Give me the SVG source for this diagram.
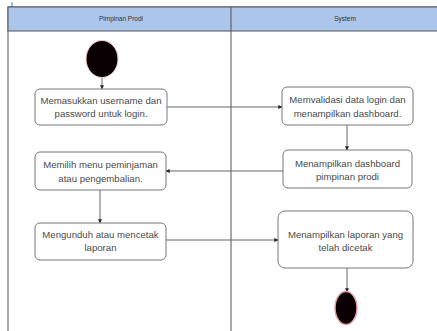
<svg xmlns="http://www.w3.org/2000/svg" width="437" height="331" viewBox="0 0 437 331">
<defs>
<style>
.lane{fill:#ffffff;stroke:#555;stroke-width:1}
.hdr{fill:#abc5eb;stroke:#555;stroke-width:1}
.hdrt{font-family:"Liberation Sans",Arial,sans-serif;font-size:6.5px;fill:#333;text-anchor:middle}
.box{fill:#ffffff;stroke:#777;stroke-width:1}
.t{font-family:"Liberation Sans",Arial,sans-serif;font-size:9.6px;fill:#4a4a4a;text-anchor:middle}
.c{fill:none;stroke:#666;stroke-width:1}
</style>
<marker id="ah" viewBox="0 0 6 6" refX="5.5" refY="3" markerWidth="4" markerHeight="4" orient="auto" markerUnits="userSpaceOnUse">
<path d="M0,0 L6,3 L0,6 Z" fill="#222"/>
</marker>
</defs>
<rect width="437" height="331" fill="#ffffff"/>
<text x="11" y="5.5" font-family="Liberation Serif,serif" font-size="7" fill="#000">j</text>
<g id="swimlanes">
<rect class="lane" x="8" y="7" width="450" height="340"/>
<rect class="hdr" x="8" y="7" width="450" height="24"/>
<line x1="231" y1="7" x2="231" y2="331" stroke="#555" stroke-width="1"/>
<text class="hdrt" x="121" y="21">Pimpinan Prodi</text>
<text class="hdrt" x="345" y="21">System</text>
</g>
<g id="connectors">
<line class="c" x1="102" y1="77" x2="102" y2="89" marker-end="url(#ah)"/>
<line class="c" x1="167" y1="107" x2="282" y2="107" marker-end="url(#ah)"/>
<line class="c" x1="347" y1="125" x2="347" y2="150" marker-end="url(#ah)"/>
<line class="c" x1="283" y1="171" x2="166" y2="171" marker-end="url(#ah)"/>
<line class="c" x1="100" y1="190" x2="100" y2="223" marker-end="url(#ah)"/>
<line class="c" x1="166" y1="240" x2="278" y2="240" marker-end="url(#ah)"/>
<line class="c" x1="347" y1="268" x2="347" y2="292" marker-end="url(#ah)"/>
</g>
<g id="start">
<ellipse cx="102" cy="59" rx="16" ry="18.5" fill="#0a0004" stroke="#f3c9c9" stroke-width="1"/>
</g>
<g id="n1">
<rect class="box" x="35" y="89" width="132" height="36" rx="5"/>
<text class="t" x="101" y="103.5">Memasukkan username dan</text>
<text class="t" x="101" y="117">password untuk login.</text>
</g>
<g id="n2">
<rect class="box" x="282" y="87" width="131" height="38" rx="5"/>
<text class="t" x="347.5" y="103">Memvalidasi data login dan</text>
<text class="t" x="347.5" y="116.5">menampilkan dashboard.</text>
</g>
<g id="n3">
<rect class="box" x="283" y="150" width="129" height="38" rx="5"/>
<text class="t" x="347.5" y="166.5">Menampilkan dashboard</text>
<text class="t" x="347.5" y="180">pimpinan prodi</text>
</g>
<g id="n4">
<rect class="box" x="35" y="152" width="131" height="38" rx="5"/>
<text class="t" x="100.5" y="168">Memilih menu peminjaman</text>
<text class="t" x="100.5" y="181.5">atau pengembalian.</text>
</g>
<g id="n5">
<rect class="box" x="35" y="223" width="131" height="37" rx="5"/>
<text class="t" x="100.5" y="237.5">Mengunduh atau mencetak</text>
<text class="t" x="100.5" y="251">laporan</text>
</g>
<g id="n6">
<rect class="box" x="278" y="211" width="135" height="57" rx="7"/>
<text class="t" x="345.5" y="237.5">Menampilkan laporan yang</text>
<text class="t" x="345.5" y="251">telah dicetak</text>
</g>
<g id="end">
<ellipse cx="346" cy="308" rx="11" ry="16.5" fill="#0a0004" stroke="#e8a3a3" stroke-width="1.5"/>
</g>
</svg>
